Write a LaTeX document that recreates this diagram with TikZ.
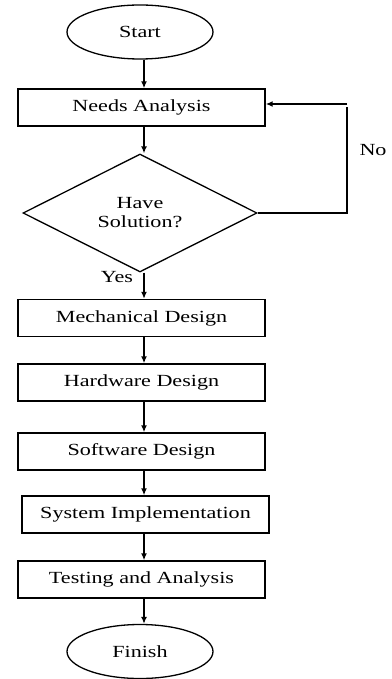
\documentclass[tikz,border=0pt]{standalone}
\usepackage{fontspec}
\setmainfont{Liberation Serif}
\usetikzlibrary{shapes.geometric,arrows.meta}
\newcommand{\sx}[1]{\scalebox{1.3}[1]{#1}}
\begin{document}
\begin{tikzpicture}[x=1pt,y=-1pt,
  every node/.style={font=\fontsize{17}{20}\selectfont, text=black},
  box/.style={draw, line width=1.4pt, rectangle, minimum width=247pt, minimum height=37pt, inner sep=0pt},
  term/.style={draw, line width=1.3pt, ellipse, minimum width=146pt, minimum height=54pt, inner sep=0pt},
  decide/.style={draw, line width=1.3pt, diamond, aspect=2, minimum width=234pt, minimum height=118pt, inner sep=0pt, align=center},
  arr/.style={line width=1.4pt, -{Latex[length=7pt,width=6pt]}},
  lbl/.style={inner sep=0pt}]
\useasboundingbox (0,0) rectangle (391,679);

% flow nodes
\node[term]   (start)  at (140,32)    {\sx{Start}};
\node[box]    (needs)  at (141.5,107.5) {\sx{Needs Analysis}};
\node[decide] (dec)    at (140,213)   {\sx{Have}\\[-1pt]\sx{Solution?}};
\node[box]    (mech)   at (141.5,318) {\sx{Mechanical Design}};
\node[box]    (hw)     at (141.5,382.5) {\sx{Hardware Design}};
\node[box]    (sw)     at (141.5,451.5) {\sx{Software Design}};
\node[box]    (sys)    at (145.5,514.5) {\sx{System Implementation}};
\node[box]    (test)   at (141.5,579.5) {\sx{Testing and Analysis}};
\node[term]   (finish) at (140,651.5) {\sx{Finish}};

% labels on the decision branches
\node[lbl] (no)  at (373,150) {\sx{No}};
\node[lbl] (yes) at (117,277) {\sx{Yes}};

% axis of the vertical arrows and the return path
\coordinate (ax) at (144,0);
\coordinate (rx) at (347,0);

\draw[arr] (start.south -| ax) -- (needs.north -| ax);
\draw[arr] (needs.south -| ax) -- (dec.north -| ax);
\draw[arr] (dec.south -| ax) -- (mech.north -| ax);
\draw[arr] (mech.south -| ax) -- (hw.north -| ax);
\draw[arr] (hw.south -| ax) -- (sw.north -| ax);
\draw[arr] (sw.south -| ax) -- (sys.north -| ax);
\draw[arr] (sys.south -| ax) -- (test.north -| ax);
\draw[arr] (test.south -| ax) -- (finish.north -| ax);

% "No" branch back to the needs analysis
\draw[arr] (dec.east) -| (rx |- needs.east) ++(0,-3.5) -- ([yshift=3.5pt]needs.east);
\end{tikzpicture}
\end{document}
